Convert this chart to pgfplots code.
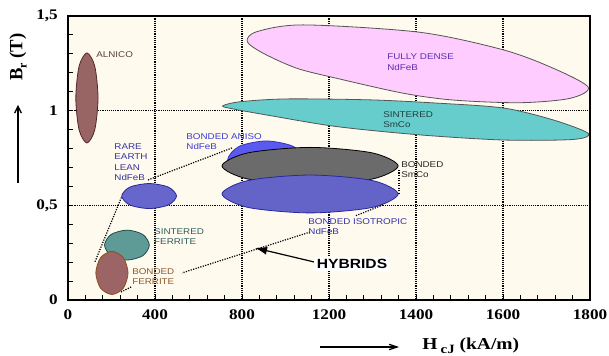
\documentclass[border=0pt]{standalone}
\usepackage{pgfplots}
\pgfplotsset{compat=1.18}
\usepackage{fontspec}
\setmainfont{Liberation Serif}
\newfontfamily\labfont{Liberation Sans}
\usetikzlibrary{arrows.meta}

\definecolor{cream}{RGB}{255,250,238}
\definecolor{alnico}{RGB}{153,100,100}
\definecolor{alnicoedge}{RGB}{80,40,40}
\definecolor{bferrite}{RGB}{156,100,100}
\definecolor{bferriteedge}{RGB}{140,80,30}
\definecolor{sferrite}{RGB}{95,155,150}
\definecolor{sferriteedge}{RGB}{30,75,75}
\definecolor{lean}{RGB}{102,102,204}
\definecolor{leanedge}{RGB}{40,40,150}
\definecolor{aniso}{RGB}{90,90,238}
\definecolor{anisoedge}{RGB}{50,50,200}
\definecolor{bsmco}{RGB}{107,107,107}
\definecolor{iso}{RGB}{100,100,200}
\definecolor{isoedge}{RGB}{40,40,160}
\definecolor{dense}{RGB}{255,204,255}
\definecolor{ssmco}{RGB}{102,204,204}
\definecolor{shapeedge}{RGB}{85,85,85}
\definecolor{txtalnico}{RGB}{90,64,64}
\definecolor{txtdense}{RGB}{90,45,180}
\definecolor{txtssmco}{RGB}{32,64,64}
\definecolor{txtaniso}{RGB}{60,60,210}
\definecolor{txtlean}{RGB}{51,51,160}
\definecolor{txtiso}{RGB}{51,51,170}
\definecolor{txtsferrite}{RGB}{46,94,94}
\definecolor{txtbferrite}{RGB}{139,90,43}

\pgfplotsset{
  region/.style={smooth cycle, line width=0.6pt},
  hybrid/.style={densely dotted, line width=0.9pt, black},
}
\tikzset{
  region label/.style={font=\labfont\fontsize{6.3}{7.6}\selectfont, xscale=1.17,
    anchor=north west, inner sep=0pt, align=left},
}

\begin{document}
\begin{tikzpicture}
\begin{axis}[
  at={(0,0)}, anchor=south west,
  scale only axis, width=391.5pt, height=213pt,
  xmin=0, xmax=2400, ymin=0, ymax=1.5,
  xtick={0,400,...,2400},
  xticklabels={0,400,800,1200,1400,1600,1800},
  ytick={0,0.5,1,1.5},
  yticklabels={0,{0,5},1,{1,5}},
  minor x tick num=4, minor y tick num=4,
  tick align=inside, xtick pos=bottom, ytick pos=left,
  major tick length=4pt, minor tick length=3.5pt,
  tick style={black, line width=0.7pt},
  grid=major, grid style={densely dotted, black, line width=0.8pt},
  axis line style={line width=1.2pt},
  axis background/.style={fill=cream},
  tick label style={font=\bfseries\fontsize{11}{13}\selectfont, xscale=1.17},
  xticklabel style={yshift=-4pt},
  yticklabel style={xshift=-3pt},
  clip=false,
]
% permanent magnet families, outlines in (H_cJ, B_r)
\addplot[region, fill=dense, draw=shapeedge] coordinates {
  (824,1.365) (868,1.417) (1082,1.453) (1618,1.414) (2002,1.321) (2231,1.224)
  (2392,1.124) (2308,1.065) (2078,1.042) (1772,1.056) (1542,1.092) (1235,1.171)
  (1052,1.224) (898,1.303)};
\addplot[region, fill=ssmco, draw=shapeedge] coordinates {
  (711,1.025) (791,1.047) (1005,1.062) (1389,1.057) (1695,1.040) (2002,1.014)
  (2231,0.951) (2392,0.880) (2323,0.848) (2002,0.845) (1618,0.872) (1235,0.916)
  (929,0.974) (760,1.009)};
\addplot[region, fill=alnico, draw=alnicoedge] coordinates {
  (138,1.067) (123,1.235) (87,1.305) (51,1.235) (36,1.067) (51,0.899) (87,0.829) (123,0.899)};
\addplot[region, fill=lean, draw=leanedge] coordinates {
  (499,0.549) (462,0.596) (373,0.615) (284,0.596) (247,0.549) (284,0.502) (373,0.483) (462,0.502)};
\addplot[region, fill=sferrite, draw=sferriteedge] coordinates {
  (374,0.290) (344,0.346) (271,0.369) (198,0.346) (168,0.290) (198,0.234) (271,0.211) (344,0.234)};
\addplot[region, fill=bferrite, draw=bferriteedge] coordinates {
  (276,0.143) (254,0.224) (202,0.257) (150,0.224) (128,0.143) (150,0.062) (202,0.029) (254,0.062)};
\addplot[region, fill=aniso, draw=anisoedge] coordinates {
  (1088,0.740) (1036,0.811) (911,0.840) (786,0.811) (734,0.740) (786,0.669) (911,0.640) (1036,0.669)};
\addplot[region, fill=bsmco, draw=black] coordinates {
  (1518,0.708) (1399,0.777) (1113,0.806) (827,0.777) (708,0.708) (827,0.639) (1113,0.610) (1399,0.639)};
\addplot[region, fill=iso, draw=isoedge] coordinates {
  (1518,0.560) (1399,0.631) (1113,0.660) (827,0.631) (708,0.560) (827,0.489) (1113,0.460) (1399,0.489)};

% boundary of the hybrid magnets
\addplot[hybrid] coordinates {(368,0.634) (754,0.803)};
\addplot[hybrid] coordinates {(1522,0.687) (1522,0.565)};
\addplot[hybrid] coordinates {(1448,0.502) (1320,0.444)};
\addplot[hybrid] coordinates {(1113,0.359) (524,0.143)};
\addplot[hybrid] coordinates {(290,0.069) (244,0.042)};
\addplot[hybrid] coordinates {(124,0.202) (247,0.546)};
\addplot[black, line width=0.9pt, -{Latex[length=9pt,width=6pt]}]
  coordinates {(1131,0.201) (860,0.275)};

% family names
\node[region label, text=txtalnico] at (axis cs:129,1.315) {ALNICO};
\node[region label, text=txtdense] at (axis cs:1467,1.300) {FULLY DENSE\\NdFeB};
\node[region label, text=txtssmco] at (axis cs:1448,0.998) {SINTERED\\SmCo};
\node[region label, text=txtaniso] at (axis cs:543,0.882) {BONDED ANISO\\NdFeB};
\node[region label, text=txtlean, font=\labfont\fontsize{6.3}{7.9}\selectfont] at (axis cs:212,0.829) {RARE\\EARTH\\LEAN\\NdFeB};
\node[region label, text=black!85] at (axis cs:1531,0.734) {BONDED\\SmCo};
\node[region label, text=txtiso] at (axis cs:1104,0.433) {BONDED ISOTROPIC\\NdFeB};
\node[region label, text=txtsferrite] at (axis cs:395,0.380) {SINTERED\\FERRITE};
\node[region label, text=txtbferrite] at (axis cs:294,0.169) {BONDED\\FERRITE};
\node[font=\labfont\bfseries\fontsize{10}{12}\selectfont, fill=white, inner sep=2pt, xscale=1.17]
  at (axis cs:1306,0.190) {HYBRIDS};
\end{axis}

% axis titles with their arrows
\node[rotate=90, font=\bfseries\fontsize{14}{16}\selectfont] at (-37.5pt,182pt)
  {B\raisebox{-0.5ex}{\fontsize{9}{9}\selectfont r} (T)};
\draw[line width=1pt, -{Straight Barb[length=5pt,width=5pt]}] (-37.5pt,87.75pt) -- (-37.5pt,146.25pt);
\node[anchor=base west, font=\bfseries\fontsize{12.5}{14}\selectfont, xscale=1.17, inner sep=0pt]
  at (265.5pt,-37.5pt) {H\,\raisebox{-0.5ex}{\fontsize{9.5}{10}\selectfont cJ} (kA/m)};
\draw[line width=0.9pt, -{Straight Barb[length=6pt,width=4pt]}] (189pt,-35.25pt) -- (248.25pt,-35.25pt);

\pgfresetboundingbox
\path (-51pt,-42pt) rectangle (405.75pt,225pt);
\end{tikzpicture}
\end{document}
